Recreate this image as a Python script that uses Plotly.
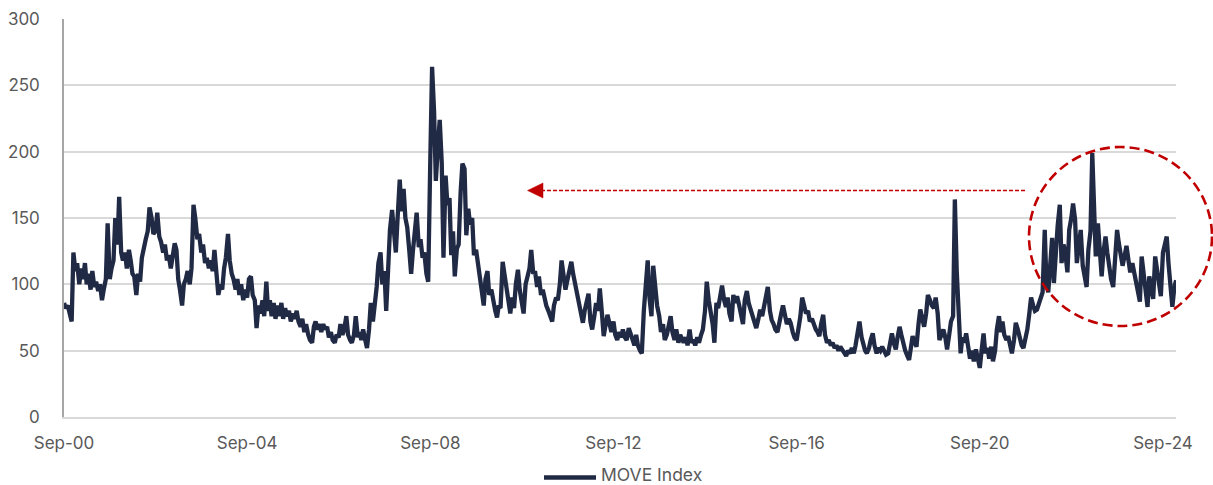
import pandas as pd
import plotly.graph_objects as go

# MOVE Index, semi-monthly readings (each list runs Sep..Aug of the next year)
y00 = [86, 82, 84, 78, 72, 124, 110, 116, 100, 112, 104, 116, 100, 108, 96, 110, 98, 102, 95, 100, 88, 96, 104, 146]
y01 = [104, 112, 118, 150, 130, 166, 124, 118, 124, 112, 126, 118, 108, 106, 92, 108, 102, 120, 126, 134, 140, 158, 150, 138]
y02 = [140, 154, 136, 132, 124, 130, 118, 122, 112, 120, 131, 126, 104, 96, 84, 100, 104, 110, 100, 112, 160, 150, 134, 138]
y03 = [124, 130, 116, 120, 112, 118, 110, 126, 104, 92, 100, 96, 112, 120, 138, 118, 108, 104, 96, 104, 92, 100, 88, 96]
y04 = [90, 104, 106, 92, 88, 67, 84, 78, 88, 76, 102, 80, 88, 76, 86, 74, 84, 76, 86, 74, 82, 76, 80, 72]
y05 = [78, 74, 80, 72, 68, 74, 64, 70, 62, 58, 56, 68, 72, 66, 70, 64, 70, 66, 68, 60, 64, 58, 56, 62]
y06 = [60, 70, 62, 66, 76, 62, 58, 56, 62, 76, 60, 64, 58, 66, 58, 52, 66, 86, 72, 82, 98, 116, 124, 100]
y07 = [110, 80, 120, 141, 156, 138, 124, 150, 179, 155, 172, 150, 143, 128, 108, 125, 140, 154, 128, 134, 120, 124, 108, 102]
y08 = [195, 264, 230, 178, 205, 224, 192, 120, 182, 160, 165, 122, 140, 106, 127, 130, 170, 191, 187, 137, 157, 145, 150, 122]
y09 = [126, 117, 110, 96, 84, 104, 110, 92, 96, 87, 80, 75, 84, 82, 117, 108, 96, 92, 78, 90, 82, 100, 111, 96]
y10 = [84, 78, 100, 106, 112, 126, 108, 110, 98, 106, 92, 96, 88, 84, 80, 76, 72, 84, 90, 88, 100, 118, 104, 96]
y11 = [104, 110, 117, 108, 100, 92, 84, 76, 71, 80, 88, 93, 72, 66, 76, 86, 80, 97, 78, 61, 70, 77, 70, 64]
y12 = [72, 62, 58, 64, 60, 66, 60, 58, 67, 62, 58, 54, 62, 54, 50, 48, 80, 100, 118, 90, 76, 114, 93, 84]
y13 = [76, 64, 70, 58, 62, 68, 76, 64, 58, 66, 56, 62, 58, 56, 60, 54, 66, 56, 58, 54, 60, 56, 62, 66]
y14 = [80, 102, 88, 80, 70, 56, 86, 82, 90, 99, 88, 83, 90, 78, 72, 92, 86, 91, 84, 78, 70, 88, 95, 86]
y15 = [81, 76, 72, 67, 74, 81, 76, 82, 90, 98, 80, 73, 70, 66, 64, 72, 78, 84, 76, 70, 74, 71, 64, 60]
y16 = [58, 66, 76, 90, 84, 78, 80, 72, 74, 70, 66, 64, 61, 70, 77, 62, 56, 58, 54, 56, 52, 54, 50, 53]
y17 = [50, 48, 46, 50, 48, 52, 48, 54, 62, 72, 60, 53, 50, 48, 52, 58, 63, 54, 48, 52, 50, 53, 50, 47]
y18 = [48, 54, 63, 56, 51, 60, 68, 62, 53, 50, 46, 43, 52, 61, 56, 53, 70, 81, 74, 68, 78, 92, 88, 84]
y19 = [82, 90, 78, 58, 62, 66, 60, 51, 62, 72, 76, 164, 110, 78, 48, 60, 56, 63, 52, 44, 50, 42, 51, 45]
y20 = [37, 50, 63, 48, 52, 44, 53, 42, 50, 66, 76, 64, 72, 62, 58, 61, 52, 48, 58, 71, 66, 60, 54, 52]
y21 = [60, 66, 78, 90, 84, 80, 81, 86, 90, 94, 141, 100, 94, 119, 135, 101, 130, 144, 160, 116, 130, 124, 109, 141]
y22 = [150, 161, 149, 116, 130, 141, 114, 106, 98, 126, 140, 199, 151, 121, 146, 128, 106, 124, 136, 124, 112, 104, 98, 114]
y23 = [141, 131, 120, 114, 122, 129, 118, 109, 116, 110, 101, 94, 87, 121, 106, 98, 83, 106, 96, 89, 121, 110, 101, 91]
y24 = [124, 130, 136, 116, 100, 83, 98, 103]

move_values = (y00 + y01 + y02 + y03 + y04 + y05 + y06 + y07 + y08 + y09 + y10 + y11 + y12
               + y13 + y14 + y15 + y16 + y17 + y18 + y19 + y20 + y21 + y22 + y23 + y24)
dates = pd.date_range("2000-09-01", periods=len(move_values), freq="SMS")

tick_dates = ["2000-09-01", "2004-09-01", "2008-09-01", "2012-09-01",
              "2016-09-01", "2020-09-01", "2024-09-01"]
tick_labels = ["Sep-00", "Sep-04", "Sep-08", "Sep-12", "Sep-16", "Sep-20", "Sep-24"]
series_name = "MOVE Index"

NAVY = "#212A45"
RED = "#C00000"
GREY = "#595959"
FONT = "Inter, Open Sans, sans-serif"

fig = go.Figure()
fig.add_trace(go.Scatter(
    x=dates, y=move_values, mode="lines", name=series_name,
    line=dict(color=NAVY, width=4.3), showlegend=False,
))

W, H = 1213, 485
L, R, T, B = 64, 37, 19, 68
pw, ph = W - L - R, H - T - B

def px(x):
    return (x - L) / pw

def py(y):
    return (H - B - y) / ph

shapes = [
    # dashed red circle highlighting recent period
    dict(type="circle", xref="paper", yref="paper",
         x0=px(1029), x1=px(1212), y0=py(326), y1=py(147),
         line=dict(color=RED, width=2.6, dash="10px,5px"), layer="above"),
    # dashed arrow shaft
    dict(type="line", xref="paper", yref="paper",
         x0=px(541), x1=px(1027), y0=py(190.5), y1=py(190.5),
         line=dict(color=RED, width=1.3, dash="4px,2px"), layer="above"),
    # arrow head
    dict(type="path", xref="paper", yref="paper",
         path=f"M {px(527.5)} {py(190.5)} L {px(543)} {py(183)} L {px(543)} {py(198)} Z",
         fillcolor=RED, line=dict(color=RED, width=0.5), layer="above"),
    # legend key line
    dict(type="line", xref="paper", yref="paper",
         x0=px(544), x1=px(596), y0=py(477.5), y1=py(477.5),
         line=dict(color=NAVY, width=4.5), layer="above"),
]

annotations = [
    dict(xref="paper", yref="paper", x=px(600), y=py(474), text=series_name,
         showarrow=False, xanchor="left", yanchor="middle", borderpad=0,
         font=dict(family=FONT, size=17.5, color=GREY)),
]

fig.update_layout(
    width=W, height=H,
    margin=dict(l=L, r=R, t=T, b=B, autoexpand=False),
    paper_bgcolor="white", plot_bgcolor="white",
    font=dict(family=FONT, size=17, color=GREY),
    showlegend=False,
    shapes=shapes,
    annotations=annotations,
    xaxis=dict(
        type="date", range=["2000-09-01", "2024-12-14"],
        tickmode="array", tickvals=tick_dates, ticktext=tick_labels,
        showgrid=False, zeroline=False,
        showline=True, linecolor="#D9D9D9", linewidth=1.5,
        ticks="", ticklabelstandoff=10,
        tickfont=dict(family=FONT, size=17, color=GREY),
    ),
    yaxis=dict(
        range=[0, 300], tickmode="linear", tick0=0, dtick=50,
        showgrid=True, gridcolor="#D9D9D9", gridwidth=1.5,
        zeroline=False, showline=True, linecolor="#A6A6A6", linewidth=1.5,
        ticks="", ticklabelstandoff=19,
        tickfont=dict(family=FONT, size=17, color=GREY),
    ),
)

fig.write_html("out.html")
